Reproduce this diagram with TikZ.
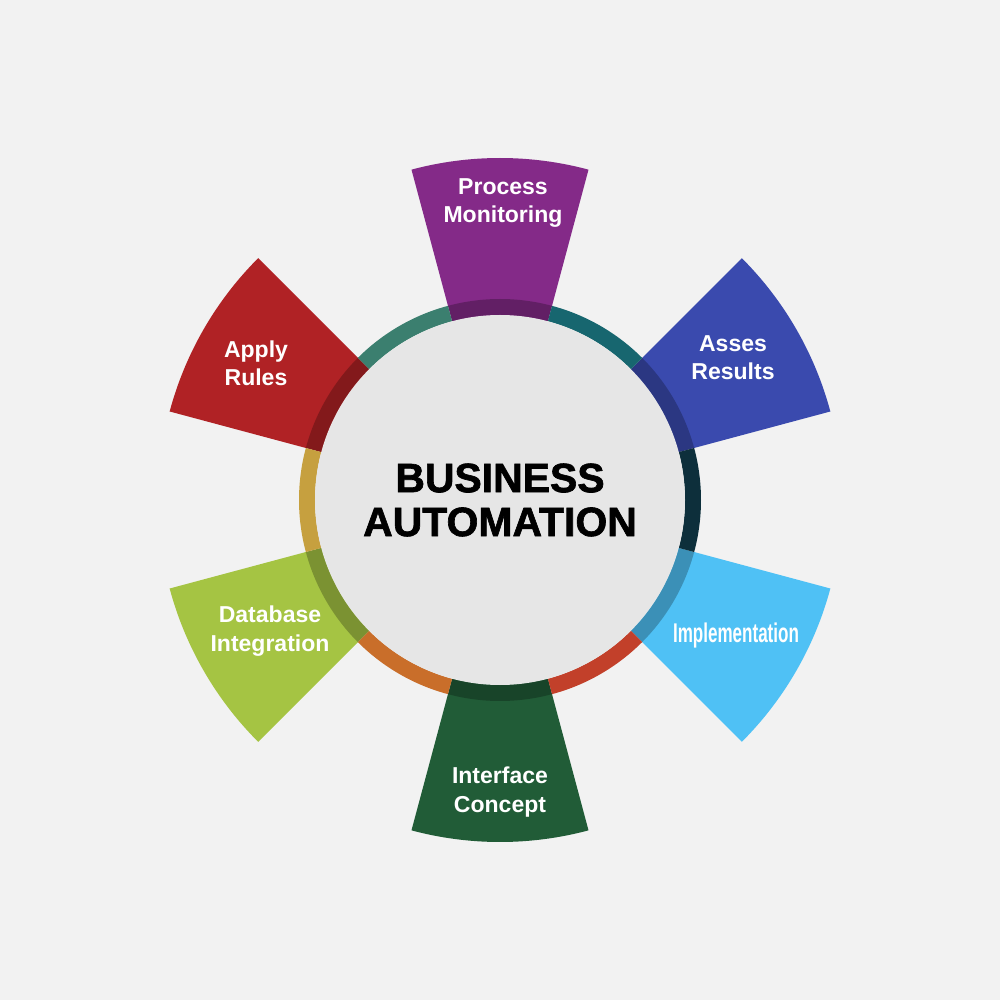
\documentclass[tikz,border=0pt]{standalone}
\usepackage{fontspec}
\setmainfont{Liberation Sans}
\newfontfamily\heavyfont{Liberation Sans}[BoldFeatures={FakeBold=1.6}]
\definecolor{bgc}{HTML}{F2F2F2}
\definecolor{hubc}{HTML}{E6E6E6}
\definecolor{cPurple}{HTML}{842A88}
\definecolor{cBlue}{HTML}{3A4AAE}
\definecolor{cLight}{HTML}{4FC1F5}
\definecolor{cGreen}{HTML}{215C37}
\definecolor{cYellow}{HTML}{A5C443}
\definecolor{cRed}{HTML}{B02225}
\definecolor{gTeal}{HTML}{17666F}
\definecolor{gNavy}{HTML}{0D2F3B}
\definecolor{gRedOr}{HTML}{C2402A}
\definecolor{gOrange}{HTML}{C96E2A}
\definecolor{gGold}{HTML}{C6A03F}
\definecolor{gSea}{HTML}{3B7F6F}
\tikzset{
  petaltext/.style={text=white, align=center, inner sep=0pt,
    font=\fontsize{13.1pt}{16.1pt}\selectfont\bfseries},
  titletext/.style={text=black, align=center, inner sep=0pt,
    font=\fontsize{23.3pt}{25pt}\selectfont\heavyfont\bfseries}
}
\begin{document}
\begin{tikzpicture}[x=0.02cm,y=0.02cm]
\fill[bgc] (-500,-500) rectangle (500,500);
\useasboundingbox (-500,-500) rectangle (500,500);
% petals
\foreach \c/\col in {90/cPurple,30/cBlue,-30/cLight,-90/cGreen,210/cYellow,150/cRed}{
  \fill[\col] ({\c-15}:180) -- ({\c-15}:342) arc[start angle=\c-15, end angle=\c+15, radius=342] -- ({\c+15}:180) -- cycle;
  \fill[black,opacity=0.25] ({\c-15}:185) -- ({\c-15}:201) arc[start angle=\c-15, end angle=\c+15, radius=201] -- ({\c+15}:185) arc[start angle=\c+15, end angle=\c-15, radius=185] -- cycle;
}
% ring segments between petals
\foreach \c/\col in {60/gTeal,0/gNavy,-60/gRedOr,-120/gOrange,180/gGold,120/gSea}{
  \fill[\col] ({\c-15}:185) -- ({\c-15}:201) arc[start angle=\c-15, end angle=\c+15, radius=201] -- ({\c+15}:185) arc[start angle=\c+15, end angle=\c-15, radius=185] -- cycle;
}
% hub
\fill[hubc] (0,0) circle[radius=185];
\node[titletext] (title) at (0,0) {BUSINESS\\AUTOMATION};
\node[petaltext] (pm) at (3,297) {Process\\Monitoring};
\node[petaltext] (ar) at (233,142) {Asses\\Results};
\node[petaltext] (im) at (236,-136) {\fontsize{15.4pt}{16pt}\selectfont\scalebox{0.63}[1]{Implementation}};
\node[petaltext] (ic) at (0,-292) {Interface\\Concept};
\node[petaltext] (di) at (-230,-131) {Database\\Integration};
\node[petaltext] (ru) at (-244,137) {Apply\\Rules};
\end{tikzpicture}
\end{document}
